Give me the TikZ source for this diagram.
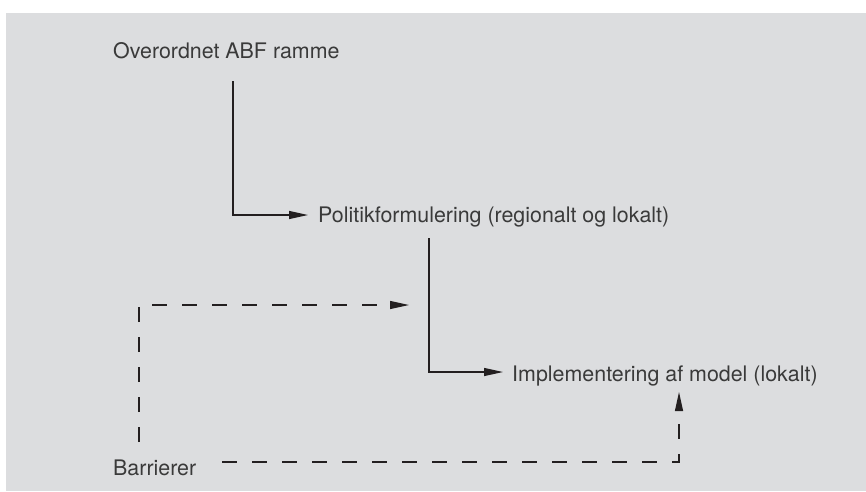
\documentclass[tikz,border=0pt]{standalone}
\usepackage{fontspec}
\setmainfont{TeX Gyre Heros}
\usetikzlibrary{arrows.meta,calc}
\definecolor{bggray}{HTML}{DCDDDF}
\definecolor{txtgray}{HTML}{3A3A3A}
\definecolor{linegray}{HTML}{231F20}
\tikzset{
  lbl/.style={anchor=base west,inner sep=0pt,text=txtgray,font=\fontsize{21.4}{24}\selectfont},
  arr/.style={draw=linegray,line width=1.2pt,-{Triangle[length=19pt,width=8pt]}},
  darr/.style={arr,dash pattern=on 15pt off 15pt}
}
\begin{document}
\begin{tikzpicture}[x=1pt,y=-1pt]
\useasboundingbox (0,0) rectangle (866,491);
\fill[bggray] (6,13) rectangle (866,491);
\node[lbl] (ov) at (113,58) {Overordnet ABF ramme};
\node[lbl] (pol) at (318,222.5) {Politikformulering (regionalt og lokalt)};
\node[lbl] (imp) at (512,381) {Implementering af model (lokalt)};
\node[lbl] (bar) at (113,475) {Barrierer};
\coordinate (t1) at (409,305);
\coordinate (t2) at (679,392);
\draw[arr] ([xshift=120pt,yshift=-23pt]ov.base west) |- ([xshift=-10pt,yshift=7.5pt]pol.base west);
\draw[arr] ([xshift=111pt,yshift=-15.5pt]pol.base west) |- ([xshift=-9pt,yshift=9pt]imp.base west);
\draw[darr] ([xshift=26pt,yshift=33pt]bar.base west) |- (t1);
\draw[darr] ([xshift=26pt,yshift=13pt]bar.base east) -| (t2);
\end{tikzpicture}
\end{document}
